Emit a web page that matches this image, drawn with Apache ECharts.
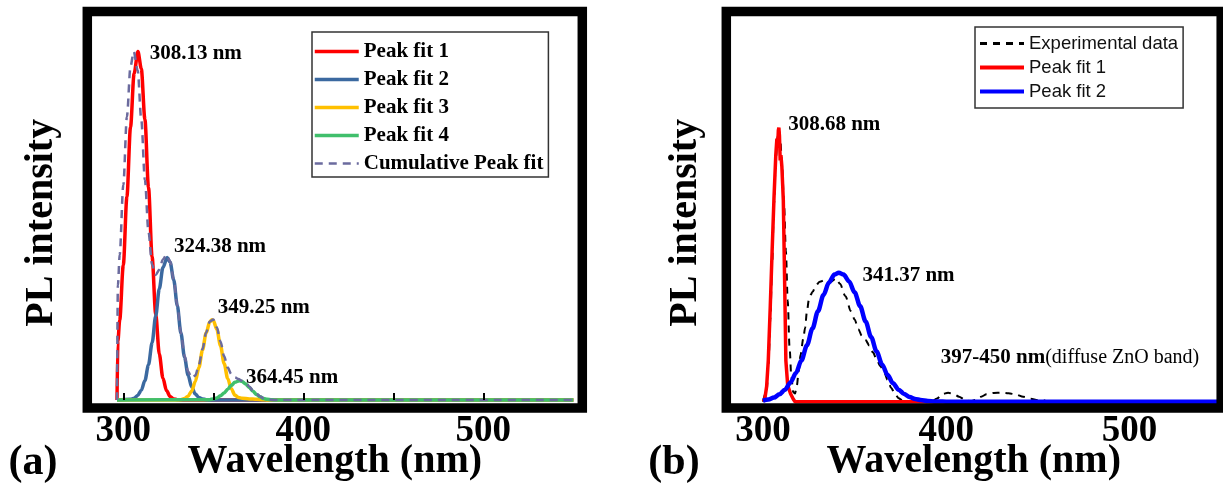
<!DOCTYPE html>
<html>
<head>
<meta charset="utf-8">
<script src="https://cdn.jsdelivr.net/npm/echarts@6/dist/echarts.min.js"></script>
<style>
html,body{margin:0;padding:0;background:#fff;}
#chart{width:1223px;height:486px;}
</style>
</head>
<body>
<div id="chart"></div>
<script>
// ---------- data ----------
const xTickLabels = [300, 400, 500];
const bottomTicks = [300, 350, 400, 450, 500];

// Panel (a)
const aPeakFit1 = [[296.5,0],[297,0.169],[298,0.229],[300,0.387],[302,0.583],[304,0.783],[306,0.937],[308.13,1.0],[310,0.951],[312,0.806],[314,0.610],[316,0.411],[318,0.247],[320,0.132],[322,0.063],[324,0.027],[326,0.010],[328,0.003],[330,0.001],[332,0],[550,0]];
const aPeakFit2 = [[296.5,0],[304,0.002],[306,0.005],[308,0.013],[310,0.028],[312,0.056],[314,0.101],[316,0.164],[318,0.241],[320,0.319],[322,0.380],[324.38,0.409],[326,0.395],[328,0.345],[330,0.271],[332,0.192],[334,0.123],[336,0.071],[338,0.037],[340,0.017],[342,0.007],[344,0.003],[346,0.001],[348,0],[550,0]];
const aPeakFit3 = [[296.5,0],[330,0],[332,0.001],[334,0.004],[336,0.011],[338,0.026],[340,0.053],[342,0.093],[344,0.143],[346,0.192],[348,0.224],[349.25,0.230],[350,0.228],[352,0.202],[354,0.156],[356,0.105],[358,0.062],[360,0.032],[362,0.014],[364,0.007],[366,0.005],[370,0.003],[374,0.002],[378,0.001],[380,0],[550,0]];
const aPeakFit4 = [[296.5,0],[346,0.0005],[348,0.001],[350,0.003],[352,0.006],[354,0.012],[356,0.020],[358,0.031],[360,0.042],[362,0.051],[364.45,0.055],[366,0.053],[368,0.046],[370,0.036],[372,0.025],[374,0.016],[376,0.009],[378,0.004],[380,0.002],[382,0.001],[384,0],[550,0]];
const aCumulative = [[296.5,0],[297,0.329],[298,0.417],[300,0.617],[302,0.813],[304,0.957],[305.8,1.0],[308,0.946],[310,0.804],[312,0.632],[314,0.482],[316,0.388],[318,0.359],[320,0.374],[322,0.403],[324,0.417],[326,0.398],[328,0.346],[330,0.271],[332,0.193],[334,0.127],[336,0.082],[338,0.063],[340,0.070],[342,0.101],[344,0.146],[346,0.193],[348,0.225],[350,0.231],[352,0.208],[354,0.168],[356,0.126],[358,0.093],[360,0.074],[362,0.065],[364,0.060],[366,0.055],[368,0.050],[370,0.039],[372,0.027],[374,0.018],[376,0.010],[378,0.005],[380,0.002],[384,0],[550,0]];
const aPeakLabels = [[308.13,1.0,'308.13 nm'],[324.38,0.409,'324.38 nm'],[349.25,0.230,'349.25 nm'],[364.45,0.055,'364.45 nm']];

// Panel (b)
const bExperimental = [[300,0],[302,0.04],[303,0.13],[304,0.30],[305,0.50],[306,0.72],[307,0.88],[308,0.97],[308.7,0.99],[309.5,0.95],[310.5,0.85],[311.5,0.72],[312.5,0.55],[313.5,0.37],[314.5,0.20],[315.5,0.09],[316.5,0.035],[317.5,0.03],[318.5,0.06],[319.5,0.11],[320.5,0.17],[322,0.23],[323,0.27],[324,0.33],[325,0.37],[326,0.39],[327,0.40],[329,0.426],[331,0.438],[334,0.444],[337,0.438],[340,0.45],[342,0.43],[345,0.385],[348,0.33],[350,0.30],[352,0.265],[354,0.24],[356,0.225],[358,0.205],[360,0.18],[362,0.155],[364,0.13],[366,0.11],[368,0.08],[370,0.05],[372,0.028],[374,0.013],[376,0.005],[378,0],[392,0],[395,0.012],[398,0.028],[401,0.033],[404,0.028],[407,0.018],[410,0.008],[413,0.002],[416,0.006],[419,0.018],[422,0.027],[426,0.032],[430,0.033],[434,0.031],[438,0.026],[442,0.018],[446,0.011],[450,0.006],[454,0.004]];
const bPeakFit1 = [[300.2,0],[301,0.01],[302,0.055],[302.9,0.15],[304,0.35],[305,0.55],[306,0.74],[307,0.90],[307.6,0.96],[308,0.93],[308.4,0.99],[308.68,1.0],[309,0.97],[309.4,0.88],[309.8,0.90],[310.3,0.86],[311.1,0.736],[311.8,0.45],[312.5,0.15],[313.5,0.06],[315,0.03],[316.5,0.01],[317.5,0],[550,0]];
const bPeakFit2 = [[300,0.004],[303,0.008],[306,0.015],[309,0.027],[312,0.044],[315,0.070],[318,0.105],[321,0.151],[324,0.206],[327,0.267],[330,0.330],[333,0.389],[336,0.435],[339,0.464],[341.37,0.471],[344,0.464],[347,0.439],[350,0.399],[353,0.349],[356,0.293],[359,0.236],[362,0.183],[365,0.136],[368,0.097],[371,0.067],[374,0.044],[377,0.028],[380,0.017],[383,0.010],[386,0.006],[390,0.0025],[394,0.001],[398,0.0004],[402,0],[550,0]];
const bPeakLabels = [[308.68,1.0,'308.68 nm'],[341.37,0.471,'341.37 nm']];
const bBandLabel = [397, 0.16, '397-450 nm', '(diffuse ZnO band)'];

// ---------- styling / layout ----------
const SERIF = "'Liberation Serif','Times New Roman',serif";
const SANS = "'Liberation Sans',Arial,sans-serif";
const aLabelOffsets = [[11.7,2.3],[6.7,-10.7],[5.7,-12.5],[6.7,-3.7]];
const bLabelOffsets = [[9.3,-2.7],[23.6,3.3]];

const chart = echarts.init(document.getElementById('chart'), null, {renderer:'canvas'});

function frameGrid(left, width){
  return {left:left, top:11.5, width:width, height:396.5, show:true, containLabel:false,
    outerBoundsMode:'none',
    backgroundColor:'transparent', borderColor:'#000', borderWidth:9.5, z:10};
}
function xAxisFor(gi, max, ticks){
  return {gridIndex:gi, type:'value', min:280, max:max, position:'bottom', z:11,
    axisLine:{show:false}, splitLine:{show:false},
    axisTick: ticks ? {show:true, inside:true, length:7, customValues:bottomTicks, lineStyle:{color:'#000', width:2}} : {show:false},
    axisLabel:{customValues:xTickLabels, margin:5, fontSize:37, fontWeight:'bold', fontFamily:SERIF, color:'#000'},
    name:'Wavelength (nm)', nameLocation:'middle', nameGap:34, nameMoveOverlap:false,
    nameTextStyle:{fontSize:40, fontWeight:'bold', fontFamily:SERIF, color:'#000'}};
}
function yAxisFor(gi, min, max, gap){
  return {gridIndex:gi, type:'value', min:min, max:max,
    axisLine:{show:false}, axisTick:{show:false}, axisLabel:{show:false}, splitLine:{show:false},
    name:'PL intensity', nameLocation:'middle', nameGap:gap, nameRotate:90, nameMoveOverlap:false,
    nameTextStyle:{fontSize:40, fontWeight:'bold', fontFamily:SERIF, color:'#000', padding:[0,26,0,0]}};
}
function lineSeries(name, gi, data, color, width, dash, smooth, z){
  return {name:name, type:'line', xAxisIndex:gi, yAxisIndex:gi, data:data, symbol:'none',
    smooth:smooth, smoothMonotone:'x', z:z, silent:true,
    lineStyle:{color:color, width:width, type:dash || 'solid'}, itemStyle:{color:color}};
}
function labelSeries(gi, peaks, offsets){
  return {type:'scatter', xAxisIndex:gi, yAxisIndex:gi, symbolSize:0, silent:true, z:6,
    itemStyle:{opacity:1},
    data: peaks.map((p,i)=>({value:[p[0],p[1]], name:p[2], label:{offset:offsets[i]}})),
    label:{show:true, position:'right', distance:0, formatter:'{b}',
      fontFamily:SERIF, fontWeight:'bold', fontSize:21, color:'#000'}};
}

const option = {
  animation:false,
  backgroundColor:'#fff',
  textStyle:{fontFamily:SERIF},
  grid:[frameGrid(87.3, 495), frameGrid(726.3, 494.9)],
  xAxis:[xAxisFor(0, 555, true), xAxisFor(1, 550, false)],
  yAxis:[yAxisFor(0, -0.023, 1.115, 26), yAxisFor(1, -0.023, 1.424, 21)],
  legend:[
    {orient:'vertical', left:312, top:32, itemWidth:44, itemHeight:14, itemGap:7,
     padding:[9,5,3,1], borderColor:'#333', borderWidth:1.5, backgroundColor:'#fff',
     itemStyle:{color:'transparent', borderColor:'transparent', borderWidth:0},
     lineStyle:{width:3.5},
     textStyle:{fontFamily:SERIF, fontWeight:'bold', fontSize:21, color:'#000'},
     selectedMode:false,
     data:['Peak fit 1','Peak fit 2','Peak fit 3','Peak fit 4',
       {name:'Cumulative Peak fit', lineStyle:{width:2.5}}]},
    {orient:'vertical', left:975, top:27, itemWidth:44, itemHeight:14, itemGap:5,
     padding:[7,5,7,3], borderColor:'#333', borderWidth:1.5, backgroundColor:'#fff',
     itemStyle:{color:'transparent', borderColor:'transparent', borderWidth:0},
     textStyle:{fontFamily:SANS, fontSize:18.5, color:'#111'},
     selectedMode:false,
     data:[
       {name:'Experimental data', lineStyle:{width:3}},
       {name:'Peak fit 1', lineStyle:{color:'#FF0000', width:4, type:'solid'}},
       {name:'Peak fit 2', lineStyle:{color:'#0000FF', width:4, type:'solid'}}
     ]}
  ],
  graphic:[
    {type:'text', x:33, y:463, style:{text:'(a)', align:'center', verticalAlign:'middle', fontFamily:SERIF, fontWeight:'bold', fontSize:42, fill:'#000'}},
    {type:'text', x:674, y:463, style:{text:'(b)', align:'center', verticalAlign:'middle', fontFamily:SERIF, fontWeight:'bold', fontSize:42, fill:'#000'}}
  ],
  series:[
    lineSeries('Peak fit 1', 0, aPeakFit1, '#FF0000', 3.5, null, 0.3, 2),
    lineSeries('Peak fit 2', 0, aPeakFit2, '#3B69A0', 3.5, null, 0.3, 3),
    lineSeries('Peak fit 3', 0, aPeakFit3, '#FFC000', 3.5, null, 0.3, 3),
    lineSeries('Peak fit 4', 0, aPeakFit4, '#40BF6C', 3.5, null, 0.3, 4),
    lineSeries('Cumulative Peak fit', 0, aCumulative, '#6B6B9E', 2.5, [8,6], 0.3, 5),
    labelSeries(0, aPeakLabels, aLabelOffsets),

    lineSeries('Experimental data', 1, bExperimental, '#000000', 2, [7,6], 0.3, 2),
    lineSeries('Peak fit 1', 1, bPeakFit1, '#FF0000', 3.5, null, false, 3),
    lineSeries('Peak fit 2', 1, bPeakFit2, '#0000FF', 4.5, null, 0.3, 4),
    labelSeries(1, bPeakLabels, bLabelOffsets),
    {type:'scatter', xAxisIndex:1, yAxisIndex:1, symbolSize:0, silent:true, z:6,
     itemStyle:{opacity:1},
     data:[{value:[bBandLabel[0], bBandLabel[1]], name:bBandLabel[2] + bBandLabel[3]}],
     label:{show:true, position:'right', distance:0,
       formatter:'{b|' + bBandLabel[2] + '}{r|' + bBandLabel[3] + '}',
       rich:{b:{fontFamily:SERIF, fontWeight:'bold', fontSize:21, color:'#000'},
             r:{fontFamily:SERIF, fontWeight:'normal', fontSize:20, color:'#000'}}}}
  ]
};
chart.setOption(option);
</script>
</body>
</html>
